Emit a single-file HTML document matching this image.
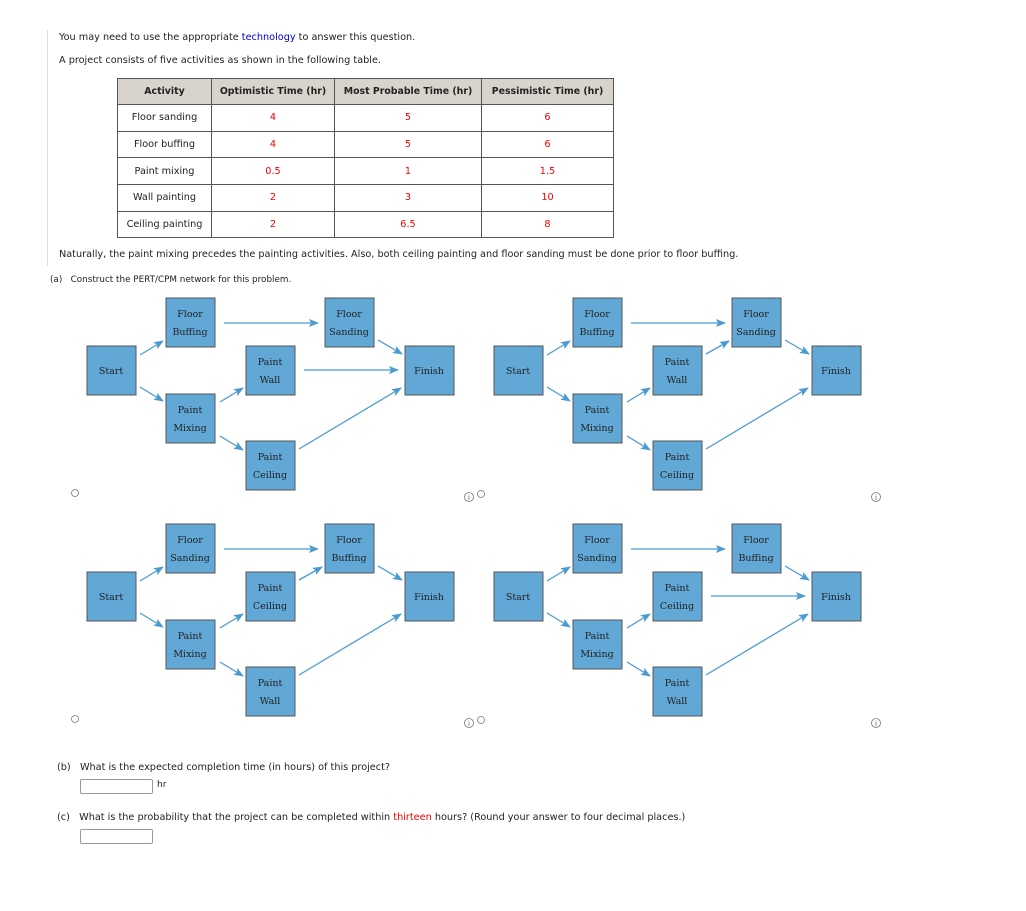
<!DOCTYPE html>
<html><head><meta charset="utf-8"><style>
body{margin:0;width:1026px;height:911px;background:#fff;font-family:"DejaVu Sans","Liberation Sans",sans-serif;font-size:9.7px;color:#222;position:relative;overflow:hidden}
.a{position:absolute;white-space:nowrap}
table{position:absolute;left:117px;top:78px;border-collapse:collapse;table-layout:fixed}
td{border:1px solid #555;height:25.7px;text-align:center;font-size:9.7px;padding:0}
th{border:1px solid #555;background:#d8d4cc;height:25px;font-size:9.4px;font-weight:bold;padding:0}
.r{color:#e00}
.inp{position:absolute;width:71px;height:13px;border:1px solid #999;border-radius:2px}
</style></head><body>
<div style="position:absolute;left:47px;top:30px;width:1px;height:236px;background:#ddd"></div>
<div class="a" style="left:59px;top:32px">You may need to use the appropriate <span style="color:#00c">technology</span> to answer this question.</div>
<div class="a" style="left:59px;top:55px">A project consists of five activities as shown in the following table.</div>
<table>
<colgroup><col style="width:94px"><col style="width:123px"><col style="width:147px"><col style="width:132px"></colgroup>
<tr><th>Activity</th><th>Optimistic Time (hr)</th><th>Most Probable Time (hr)</th><th>Pessimistic Time (hr)</th></tr>
<tr><td>Floor sanding</td><td class="r">4</td><td class="r">5</td><td class="r">6</td></tr>
<tr><td>Floor buffing</td><td class="r">4</td><td class="r">5</td><td class="r">6</td></tr>
<tr><td>Paint mixing</td><td class="r">0.5</td><td class="r">1</td><td class="r">1.5</td></tr>
<tr><td>Wall painting</td><td class="r">2</td><td class="r">3</td><td class="r">10</td></tr>
<tr><td>Ceiling painting</td><td class="r">2</td><td class="r">6.5</td><td class="r">8</td></tr>
</table>
<div class="a" style="left:59px;top:249px">Naturally, the paint mixing precedes the painting activities. Also, both ceiling painting and floor sanding must be done prior to floor buffing.</div>
<div class="a" style="left:50px;top:275px;font-size:8.8px">(a)&nbsp;&nbsp; Construct the PERT/CPM network for this problem.</div>

<svg width="1026" height="911" style="position:absolute;left:0;top:0" font-family="DejaVu Serif,Liberation Serif,serif" font-size="9.5" fill="#222">
<defs>
<marker id="m" markerWidth="10" markerHeight="8" refX="9" refY="4" orient="auto" markerUnits="userSpaceOnUse"><path d="M0,0 L10,4 L0,8 L2,4z" fill="#4a9bd1"/></marker>
<g id="box"><rect width="49" height="49" fill="#62a8d6" stroke="#555" stroke-width="1"/></g>
<g id="base" stroke="#4a9bd1" stroke-width="1.3" marker-end="url(#m)">
<line x1="140" y1="355" x2="163" y2="341"/>
<line x1="140" y1="387" x2="163" y2="401"/>
<line x1="224" y1="323" x2="318" y2="323"/>
<line x1="378" y1="340" x2="402" y2="354"/>
<line x1="220" y1="402" x2="243" y2="388"/>
<line x1="220" y1="436" x2="243" y2="450"/>
<line x1="299" y1="449" x2="401" y2="388"/>
</g>
<g id="boxes">
<use href="#box" x="87" y="346"/><use href="#box" x="166" y="298"/><use href="#box" x="246" y="346"/>
<use href="#box" x="166" y="394"/><use href="#box" x="246" y="441"/><use href="#box" x="325" y="298"/><use href="#box" x="405" y="346"/>
</g>
</defs>
<g text-anchor="middle">
<g><use href="#base"/><line x1="304" y1="370" x2="398" y2="370" stroke="#4a9bd1" stroke-width="1.3" marker-end="url(#m)"/><use href="#boxes"/>
<text x="111" y="374">Start</text><text x="190" y="317">Floor</text><text x="190" y="335">Buffing</text>
<text x="270" y="365">Paint</text><text x="270" y="383">Wall</text><text x="190" y="413">Paint</text><text x="190" y="431">Mixing</text>
<text x="270" y="460">Paint</text><text x="270" y="478">Ceiling</text><text x="349" y="317">Floor</text><text x="349" y="335">Sanding</text><text x="429" y="374">Finish</text></g>
<g transform="translate(407,0)"><use href="#base"/><line x1="299" y1="354" x2="322" y2="341" stroke="#4a9bd1" stroke-width="1.3" marker-end="url(#m)"/><use href="#boxes"/>
<text x="111" y="374">Start</text><text x="190" y="317">Floor</text><text x="190" y="335">Buffing</text>
<text x="270" y="365">Paint</text><text x="270" y="383">Wall</text><text x="190" y="413">Paint</text><text x="190" y="431">Mixing</text>
<text x="270" y="460">Paint</text><text x="270" y="478">Ceiling</text><text x="349" y="317">Floor</text><text x="349" y="335">Sanding</text><text x="429" y="374">Finish</text></g>
<g transform="translate(0,226)"><use href="#base"/><line x1="299" y1="354" x2="322" y2="341" stroke="#4a9bd1" stroke-width="1.3" marker-end="url(#m)"/><use href="#boxes"/>
<text x="111" y="374">Start</text><text x="190" y="317">Floor</text><text x="190" y="335">Sanding</text>
<text x="270" y="365">Paint</text><text x="270" y="383">Ceiling</text><text x="190" y="413">Paint</text><text x="190" y="431">Mixing</text>
<text x="270" y="460">Paint</text><text x="270" y="478">Wall</text><text x="349" y="317">Floor</text><text x="349" y="335">Buffing</text><text x="429" y="374">Finish</text></g>
<g transform="translate(407,226)"><use href="#base"/><line x1="304" y1="370" x2="398" y2="370" stroke="#4a9bd1" stroke-width="1.3" marker-end="url(#m)"/><use href="#boxes"/>
<text x="111" y="374">Start</text><text x="190" y="317">Floor</text><text x="190" y="335">Sanding</text>
<text x="270" y="365">Paint</text><text x="270" y="383">Ceiling</text><text x="190" y="413">Paint</text><text x="190" y="431">Mixing</text>
<text x="270" y="460">Paint</text><text x="270" y="478">Wall</text><text x="349" y="317">Floor</text><text x="349" y="335">Buffing</text><text x="429" y="374">Finish</text></g>
</g>
<g fill="none" stroke="#777" stroke-width="0.8">
<circle cx="75" cy="493" r="3.5"/><circle cx="481" cy="494" r="3.5"/><circle cx="75" cy="719" r="3.5"/><circle cx="481" cy="720" r="3.5"/>
<circle cx="469" cy="497" r="4.5"/><circle cx="876" cy="497" r="4.5"/><circle cx="469" cy="723" r="4.5"/><circle cx="876" cy="723" r="4.5"/>
</g>
<g font-family="DejaVu Sans,sans-serif" font-size="7" fill="#555" text-anchor="middle">
<text x="469" y="500">i</text><text x="876" y="500">i</text><text x="469" y="726">i</text><text x="876" y="726">i</text>
</g>
</svg>

<div class="a" style="left:57px;top:762px">(b)&nbsp;&nbsp; What is the expected completion time (in hours) of this project?</div>
<div class="inp" style="left:80px;top:779px"></div>
<div class="a" style="left:157px;top:780px;font-size:9px">hr</div>
<div class="a" style="left:57px;top:812px">(c)&nbsp;&nbsp; What is the probability that the project can be completed within <span style="color:#e00">thirteen</span> hours? (Round your answer to four decimal places.)</div>
<div class="inp" style="left:80px;top:829px"></div>
</body></html>
